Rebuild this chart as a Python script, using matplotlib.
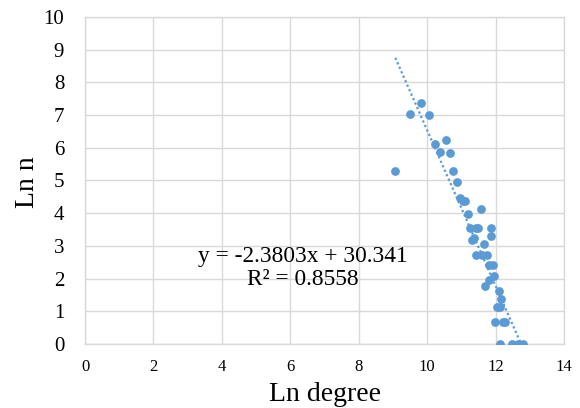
import numpy as np
import matplotlib
matplotlib.use('Agg')
import matplotlib.pyplot as plt

# datos (Ln degree, Ln n)
ln_degree = [9.07, 9.50, 9.82, 10.04, 10.24, 10.38, 10.55, 10.68, 10.77, 10.86,
             10.97, 11.05, 11.12, 11.18, 11.56, 11.26, 11.42, 11.48, 11.88, 11.86,
             11.32, 11.37, 11.67, 11.44, 11.61, 11.75, 11.81, 11.92, 11.94, 11.82,
             11.70, 12.09, 12.15, 12.04, 12.14, 11.99, 12.21, 12.29, 12.14, 12.49,
             12.65, 12.80]
ln_n = [5.30, 7.03, 7.36, 6.99, 6.11, 5.87, 6.24, 5.83, 5.30, 4.96,
        4.46, 4.37, 4.37, 3.98, 4.14, 3.55, 3.55, 3.55, 3.55, 3.31,
        3.18, 3.25, 3.07, 2.72, 2.72, 2.72, 2.42, 2.42, 2.08, 1.96,
        1.78, 1.61, 1.37, 1.12, 1.12, 0.68, 0.68, 0.68, 0, 0,
        0, 0]

# linea de tendencia (Excel)
slope = -2.3803
intercept = 30.341
r2 = 0.8558

x_ticks = [0, 2, 4, 6, 8, 10, 12, 14]
y_ticks = [0, 1, 2, 3, 4, 5, 6, 7, 8, 9, 10]

color = '#5B9BD5'
plt.rcParams['font.family'] = ['Liberation Serif', 'DejaVu Serif']

fig = plt.figure(figsize=(5.8, 4.08), dpi=100)
ax = fig.add_axes([0.1466, 0.1569, 0.8258, 0.8014])

ax.plot(ln_degree, ln_n, 'o', color=color, markersize=6.3, markeredgewidth=0, zorder=3)

xt = np.array([min(ln_degree), max(ln_degree)])
ax.plot(xt, slope * xt + intercept, linestyle=(0, (1, 1.2)), color=color,
        linewidth=1.6, zorder=2)

ax.text(6.38, 2.33, 'y = %.4fx + %.3f\nR² = %.4f' % (slope, intercept, r2),
        ha='center', va='center', fontsize=16.8, linespacing=1.12)

ax.set_xlim(0, 14)
ax.set_ylim(0, 10)
ax.set_xticks(x_ticks)
ax.set_yticks(y_ticks)
ax.tick_params(axis='x', length=0, pad=11, labelsize=12)
ax.tick_params(axis='y', length=0, pad=15, labelsize=15)
ax.grid(True, color='#d9d9d9', linewidth=1)
ax.set_axisbelow(True)
for s in ax.spines.values():
    s.set_color('#d9d9d9')
    s.set_linewidth(1)

ax.set_xlabel('Ln degree', fontsize=20, labelpad=5)
ax.set_ylabel('Ln n', fontsize=20)
ax.yaxis.set_label_coords(-0.094, 0.495)

fig.savefig('out.png', dpi=100)
